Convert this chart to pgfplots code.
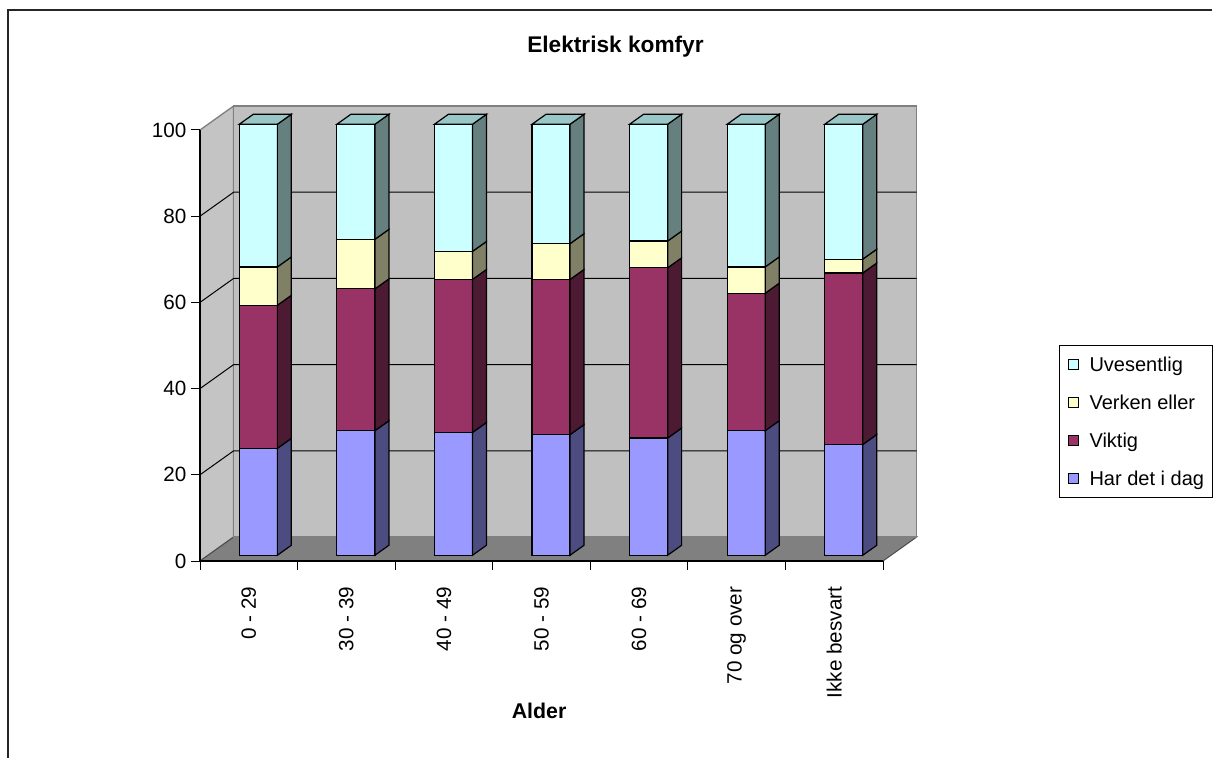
\documentclass[border=0pt]{standalone}
\usepackage{fontspec}
\setmainfont{Liberation Sans}
\usepackage{pgfplots}
\usepackage{pgfplotstable}
\pgfplotsset{compat=1.18}

% face colours: front, side (darker), top
\definecolor{harF}{HTML}{9999FF}\definecolor{harS}{HTML}{4C4C80}
\definecolor{vikF}{HTML}{993366}\definecolor{vikS}{HTML}{4D1A33}
\definecolor{verF}{HTML}{FFFFCC}\definecolor{verS}{HTML}{808066}
\definecolor{uveF}{HTML}{CCFFFF}\definecolor{uveS}{HTML}{668080}\definecolor{uveT}{HTML}{99C6C6}
\definecolor{wallB}{HTML}{C0C0C0}\definecolor{wallL}{HTML}{C4C4C4}
\definecolor{floorC}{HTML}{808080}\definecolor{edgeC}{HTML}{808080}

% Percent per age group
\pgfplotstableread{
idx har viktig verken uvesentlig
0 24.8 33.2 8.9 33.1
1 28.9 32.9 11.5 26.7
2 28.5 35.5 6.5 29.5
3 28.0 36.0 8.3 27.7
4 27.2 39.5 6.2 27.1
5 28.9 31.9 6.1 33.1
6 25.7 39.8 3.2 31.3
}\alder

% oblique depth of the plot box (data units) and of the bars
\def\DX{0.345}\def\DY{5.57}
\pgfmathsetmacro\oy{0.24*\DY}
\pgfmathsetmacro\ddx{0.415*\DX}
\pgfmathsetmacro\ddy{0.415*\DY}
\def\bw{0.9pt}

% one stacked segment: front face and right side face
\newcommand\barface[4]{%
  \pgfmathsetmacro\bYl{#1+\oy}\pgfmathsetmacro\bYh{#2+\oy}%
  \pgfmathsetmacro\bYlb{\bYl+\ddy}\pgfmathsetmacro\bYhb{\bYh+\ddy}%
  \addplot[forget plot, fill=#3, draw=black, line width=\bw]
    coordinates {(\bXl,\bYl) (\bXr,\bYl) (\bXr,\bYh) (\bXl,\bYh)} -- cycle;
  \addplot[forget plot, fill=#4, draw=black, line width=\bw]
    coordinates {(\bXr,\bYl) (\bXrb,\bYlb) (\bXrb,\bYhb) (\bXr,\bYh)} -- cycle;
}
% top face of a bar
\newcommand\bartop[2]{%
  \pgfmathsetmacro\bYh{#1+\oy}\pgfmathsetmacro\bYhb{\bYh+\ddy}%
  \addplot[forget plot, fill=#2, draw=black, line width=\bw]
    coordinates {(\bXl,\bYh) (\bXr,\bYh) (\bXrb,\bYhb) (\bXlb,\bYhb)} -- cycle;
}

\begin{document}
\begin{tikzpicture}
\path[use as bounding box] (0,0) rectangle (915pt,568.5pt);
\fill[white] (0,0) rectangle (915pt,568.5pt);
\draw[line width=1pt, black!85] (6pt,0) -- (6pt,561pt) -- (909pt,561pt);

\node[font=\bfseries\fontsize{17}{20}\selectfont, anchor=base] at (461.6pt,529.3pt) {Elektrisk komfyr};
\node[font=\bfseries\fontsize{16}{19}\selectfont, anchor=base] at (404.3pt,29.8pt) {Alder};

\begin{axis}[
  at={(150pt,147.75pt)}, anchor=south west,
  scale only axis, width=512.25pt, height=323.25pt,
  xmin=0, xmax=7, ymin=0, ymax=100,
  clip=false, axis on top,
  axis x line=bottom, axis y line=left,
  axis line style={-, line width=0.9pt, black},
  xtick={0,...,7}, x tick label as interval,
  xticklabels={0 - 29, 30 - 39, 40 - 49, 50 - 59, 60 - 69, 70 og over, Ikke besvart},
  ytick={0,20,...,100},
  tick align=outside, major tick length=6.75pt,
  tick style={black, line width=0.75pt},
  ticklabel style={font=\fontsize{15.5}{18}\selectfont},
  xticklabel style={rotate=90, anchor=east},
  xticklabel shift=9pt,
  /pgf/number format/assume math mode=true,
  legend image code/.code={\draw[#1, line width=0.75pt] (0pt,-3.75pt) rectangle (7.5pt,3.75pt);},
  legend cell align=left,
  legend style={at={(1.2577,0.501)}, anchor=north west, draw=black, line width=0.75pt,
    font=\fontsize{15}{18}\selectfont, inner xsep=6pt, inner ysep=5.75pt,
    row sep=11.5pt, column sep=8.25pt,
    nodes={text height=13.5pt, text depth=3.5pt, inner sep=0pt}},
]
% walls and floor
\addplot[forget plot, fill=wallL, draw=edgeC, line width=1pt]
  coordinates {(0,0) (\DX,\DY) (\DX,100+\DY) (0,100)} -- cycle;
\addplot[forget plot, fill=floorC, draw=black!70, line width=0.75pt]
  coordinates {(0,0) (7,0) (7+\DX,\DY) (\DX,\DY)} -- cycle;
\addplot[forget plot, fill=wallB, draw=edgeC, line width=1.1pt]
  coordinates {(\DX,\DY) (7+\DX,\DY) (7+\DX,100+\DY) (\DX,100+\DY)} -- cycle;
% grid lines on side and back wall
\pgfplotsinvokeforeach{20,40,60,80}{
  \addplot[forget plot, black, line width=0.75pt]
    coordinates {(0,#1) (\DX,#1+\DY) (7+\DX,#1+\DY)};
}
% stacked 3-D bars
\pgfplotsinvokeforeach{0,...,6}{
  \pgfplotstablegetelem{#1}{har}\of\alder \pgfmathsetmacro\ca{\pgfplotsretval}
  \pgfplotstablegetelem{#1}{viktig}\of\alder \pgfmathsetmacro\cb{\ca+\pgfplotsretval}
  \pgfplotstablegetelem{#1}{verken}\of\alder \pgfmathsetmacro\cc{\cb+\pgfplotsretval}
  \pgfplotstablegetelem{#1}{uvesentlig}\of\alder \pgfmathsetmacro\cd{\cc+\pgfplotsretval}
  \pgfmathsetmacro\bXl{#1+0.403}
  \pgfmathsetmacro\bXr{\bXl+0.39}
  \pgfmathsetmacro\bXlb{\bXl+\ddx}
  \pgfmathsetmacro\bXrb{\bXr+\ddx}
  \barface{0}{\ca}{harF}{harS}
  \barface{\ca}{\cb}{vikF}{vikS}
  \barface{\cb}{\cc}{verF}{verS}
  \barface{\cc}{\cd}{uveF}{uveS}
  \bartop{\cd}{uveT}
}
\addlegendimage{fill=uveF, draw=black}\addlegendentry{Uvesentlig}
\addlegendimage{fill=verF, draw=black}\addlegendentry{Verken eller}
\addlegendimage{fill=vikF, draw=black}\addlegendentry{Viktig}
\addlegendimage{fill=harF, draw=black}\addlegendentry{Har det i dag}
\end{axis}
\end{tikzpicture}
\end{document}
